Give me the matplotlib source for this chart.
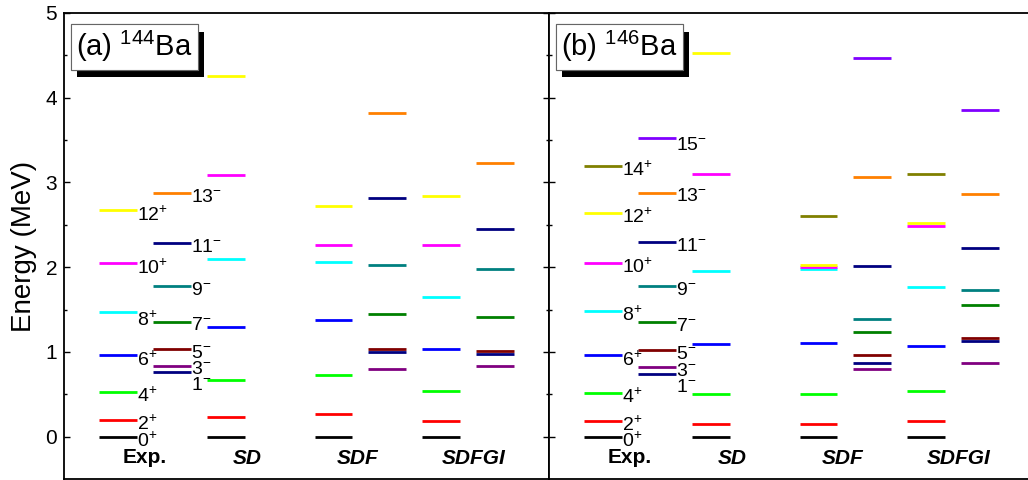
import numpy as np
import matplotlib.pyplot as plt
import matplotlib as mpl
import matplotlib.patheffects as pe

mpl.rcParams.update({'font.family': ['Liberation Sans', 'DejaVu Sans'],
                     'mathtext.default': 'regular',
                     'xtick.labelsize': 15, 'ytick.labelsize': 15})

# spins and colours of the bands
pos_spin = [0, 2, 4, 6, 8, 10, 12, 14]
neg_spin = [1, 3, 5, 7, 9, 11, 13, 15]
pos_col = ['black', '#ff0000', '#00ff00', '#0000ff', '#00ffff', '#ff00ff', '#ffff00', '#808000']
neg_col = ['#000080', '#800080', '#800000', '#008000', '#008080', '#000080', '#ff8000', '#8000ff']

# 144Ba levels (MeV)
a_exp_p = [0.0, 0.199, 0.530, 0.958, 1.467, 2.045, 2.670]
a_exp_n = [0.759, 0.838, 1.034, 1.357, 1.778, 2.281, 2.871]
a_sd_p = [0.0, 0.236, 0.669, 1.290, 2.100, 3.087, 4.260]
a_sdf_p = [0.0, 0.267, 0.728, 1.373, 2.057, 2.262, 2.722]
a_sdf_n = [1.000, 0.794, 1.031, 1.451, 2.030, 2.812, 3.819]
a_sdfgi_p = [0.0, 0.189, 0.543, 1.038, 1.648, 2.262, 2.840]
a_sdfgi_n = [0.972, 0.834, 1.015, 1.416, 1.974, 2.454, 3.229]

# 146Ba levels (MeV)
b_exp_p = [0.0, 0.181, 0.514, 0.958, 1.483, 2.053, 2.643, 3.198]
b_exp_n = [0.739, 0.818, 1.023, 1.353, 1.778, 2.293, 2.879, 3.525]
b_sd_p = [0.0, 0.149, 0.503, 1.089, 1.951, 3.099, 4.531]
b_sdf_p = [0.0, 0.146, 0.503, 1.101, 1.975, 2.006, 2.026, 2.604]
b_sdf_n = [0.866, 0.799, 0.964, 1.232, 1.388, 2.014, 3.060, 4.464]
b_sdfgi_p = [0.0, 0.189, 0.539, 1.066, 1.770, 2.490, 2.517, 3.103]
b_sdfgi_n = [1.133, 0.873, 1.161, 1.550, 1.727, 2.222, 2.867, 3.858]

models = ['Exp.', 'SD', 'SDF', 'SDFGI']
model_x = [1.5, 3.4, 5.45, 7.6]
panels = [('(a) $^{144}$Ba', [a_exp_p, a_exp_n, a_sd_p, None, a_sdf_p, a_sdf_n, a_sdfgi_p, a_sdfgi_n]),
          ('(b) $^{146}$Ba', [b_exp_p, b_exp_n, b_sd_p, None, b_sdf_p, b_sdf_n, b_sdfgi_p, b_sdfgi_n])]

fig = plt.figure(figsize=(10.28, 4.8), dpi=100)
w = 485 / 1028
axes = [fig.add_axes([64 / 1028, 1 / 480, w, 466 / 480]),
        fig.add_axes([549 / 1028, 1 / 480, w, 466 / 480])]

hw = 0.35
for k, (ax, (title, cols)) in enumerate(zip(axes, panels)):
    for c, lev in enumerate(cols):
        if lev is None:
            continue
        x = c + 1
        parity_pos = (c % 2 == 0)
        spins = pos_spin if parity_pos else neg_spin
        colors = pos_col if parity_pos else neg_col
        for j, e in enumerate(lev):
            ax.hlines(e, x - hw, x + hw, color=colors[j], lw=2.0)
            # spin labels only next to the experimental levels
            if c < 2:
                sign = '+' if parity_pos else '-'
                dy = 0.05
                if spins[j] == 1:
                    dy = 0.16
                elif spins[j] == 8 and k == 0:
                    dy = 0.09
                elif spins[j] == 15:
                    dy = 0.09
                ax.text(x + hw + 0.01, e - dy, '%d$^{%s}$' % (spins[j], sign),
                        fontsize=14, va='center', ha='left')
    for m, xm in zip(models, model_x):
        if m == 'Exp.':
            ax.text(xm, -0.25, m, fontsize=15, fontweight='bold', ha='center', va='center')
        else:
            ax.text(xm, -0.26, m, fontsize=15, fontweight='bold', style='italic',
                    ha='center', va='center')
    t = ax.text(0.23, 4.6, title, fontsize=21, va='center', ha='left', zorder=5,
                bbox=dict(boxstyle='square,pad=0.18', fc='white', ec='0.4', lw=0.8))
    t.get_bbox_patch().set_path_effects([pe.withSimplePatchShadow(offset=(4.5, -5.5),
                                         shadow_rgbFace='black', alpha=1.0), pe.Normal()])

    ax.set_xlim(0, 9)
    ax.set_ylim(-0.5, 5)
    ax.set_xticks([])
    ax.set_yticks(np.arange(0, 6, 1))
    ax.set_yticks(np.arange(0, 5.01, 0.5), minor=True)
    ax.tick_params(axis='y', which='both', direction='in', left=True, right=True, pad=5)
    ax.tick_params(axis='y', which='major', length=4, width=1)
    ax.tick_params(axis='y', which='minor', length=2, width=1)
    for s in ax.spines.values():
        s.set_linewidth(1.3)

axes[1].tick_params(axis='y', labelleft=False)
axes[0].set_ylabel('Energy (MeV)', fontsize=20, labelpad=6)

plt.savefig('out.png', dpi=100)
